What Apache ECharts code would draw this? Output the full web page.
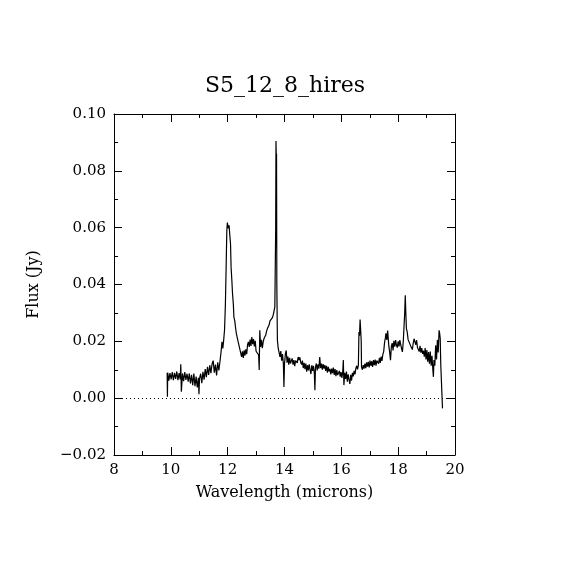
<!DOCTYPE html>
<html>
<head>
<meta charset="utf-8">
<title>S5_12_8_hires</title>
<script src="https://cdn.jsdelivr.net/npm/echarts@6/dist/echarts.min.js"></script>
<style>
  html, body { margin: 0; padding: 0; background: #fff; }
  #chart { width: 570px; height: 570px; }
</style>
</head>
<body>
<div id="chart"></div>
<script>
// 光谱数据
const wavelength = [
  9.87, 9.88, 9.89, 9.93, 9.97, 10.01, 10.05, 10.09, 10.13, 10.17,
  10.21, 10.25, 10.29, 10.33, 10.35, 10.37, 10.41, 10.45, 10.49, 10.53,
  10.57, 10.61, 10.65, 10.69, 10.73, 10.77, 10.81, 10.85, 10.89, 10.93,
  10.97, 10.99, 11.01, 11.05, 11.09, 11.13, 11.17, 11.21, 11.25, 11.29,
  11.33, 11.37, 11.41, 11.45, 11.49, 11.53, 11.57, 11.61, 11.65, 11.69,
  11.73, 11.77, 11.80, 11.83, 11.86, 11.89, 11.92, 11.95, 11.97, 11.99,
  12.02, 12.05, 12.07, 12.10, 12.12, 12.15, 12.17, 12.20, 12.22, 12.25,
  12.28, 12.31, 12.34, 12.37, 12.40, 12.43, 12.46, 12.49, 12.52, 12.55,
  12.58, 12.61, 12.64, 12.67, 12.70, 12.73, 12.76, 12.79, 12.82, 12.85,
  12.88, 12.91, 12.94, 12.97, 13.00, 13.03, 13.06, 13.09, 13.11, 13.13,
  13.16, 13.19, 13.22, 13.25, 13.28, 13.31, 13.34, 13.37, 13.40, 13.43,
  13.46, 13.49, 13.52, 13.55, 13.58, 13.61, 13.64, 13.66, 13.69, 13.70,
  13.71, 13.72, 13.73, 13.75, 13.78, 13.81, 13.84, 13.87, 13.90, 13.93,
  13.96, 13.98, 14.00, 14.03, 14.06, 14.09, 14.12, 14.15, 14.18, 14.21,
  14.24, 14.27, 14.30, 14.33, 14.36, 14.39, 14.42, 14.45, 14.48, 14.51,
  14.54, 14.57, 14.60, 14.63, 14.66, 14.69, 14.72, 14.75, 14.78, 14.81,
  14.84, 14.87, 14.90, 14.93, 14.96, 14.99, 15.02, 15.05, 15.07, 15.09,
  15.12, 15.15, 15.18, 15.21, 15.24, 15.27, 15.30, 15.33, 15.36, 15.39,
  15.42, 15.45, 15.48, 15.51, 15.54, 15.57, 15.60, 15.63, 15.66, 15.69,
  15.72, 15.75, 15.78, 15.81, 15.84, 15.87, 15.90, 15.93, 15.96, 15.99,
  16.02, 16.05, 16.07, 16.09, 16.12, 16.15, 16.18, 16.21, 16.24, 16.27,
  16.30, 16.33, 16.36, 16.39, 16.42, 16.45, 16.48, 16.51, 16.54, 16.57,
  16.60, 16.62, 16.64, 16.66, 16.68, 16.70, 16.71, 16.74, 16.77, 16.80,
  16.83, 16.86, 16.89, 16.92, 16.95, 16.98, 17.01, 17.04, 17.07, 17.10,
  17.13, 17.16, 17.19, 17.22, 17.25, 17.28, 17.31, 17.34, 17.37, 17.40,
  17.43, 17.46, 17.49, 17.52, 17.55, 17.57, 17.60, 17.63, 17.65, 17.67,
  17.70, 17.73, 17.76, 17.79, 17.82, 17.85, 17.88, 17.91, 17.94, 17.97,
  18.00, 18.03, 18.06, 18.09, 18.12, 18.15, 18.18, 18.21, 18.23, 18.25,
  18.27, 18.29, 18.32, 18.35, 18.38, 18.41, 18.44, 18.47, 18.50, 18.53,
  18.56, 18.59, 18.62, 18.65, 18.68, 18.71, 18.74, 18.77, 18.80, 18.83,
  18.86, 18.89, 18.92, 18.95, 18.98, 19.01, 19.04, 19.07, 19.10, 19.13,
  19.16, 19.19, 19.22, 19.24, 19.26, 19.29, 19.32, 19.35, 19.38, 19.41,
  19.44, 19.46, 19.48, 19.50, 19.52, 19.54, 19.55, 19.56
];
const flux = [
  0.0089, 0.0005, 0.0090, 0.0062, 0.0088, 0.0066, 0.0092, 0.0063, 0.0089, 0.0068,
  0.0094, 0.0063, 0.0088, 0.0066, 0.0119, 0.0023, 0.0087, 0.0060, 0.0092, 0.0064,
  0.0086, 0.0058, 0.0087, 0.0052, 0.0082, 0.0046, 0.0087, 0.0042, 0.0076, 0.0038,
  0.0072, 0.0014, 0.0070, 0.0086, 0.0053, 0.0093, 0.0065, 0.0102, 0.0074, 0.0110,
  0.0082, 0.0116, 0.0088, 0.0120, 0.0132, 0.0090, 0.0118, 0.0080, 0.0126, 0.0098,
  0.0130, 0.0165, 0.0198, 0.0175, 0.0205, 0.0240, 0.0330, 0.0480, 0.0590, 0.0618,
  0.0598, 0.0608, 0.0580, 0.0545, 0.0462, 0.0410, 0.0369, 0.0330, 0.0285, 0.0272,
  0.0246, 0.0225, 0.0218, 0.0198, 0.0195, 0.0172, 0.0168, 0.0145, 0.0165, 0.0142,
  0.0168, 0.0150, 0.0172, 0.0155, 0.0188, 0.0198, 0.0180, 0.0206, 0.0184, 0.0215,
  0.0190, 0.0208, 0.0182, 0.0202, 0.0165, 0.0168, 0.0172, 0.0152, 0.0099, 0.0239,
  0.0180, 0.0205, 0.0176, 0.0198, 0.0210, 0.0208, 0.0222, 0.0236, 0.0245, 0.0248,
  0.0258, 0.0272, 0.0270, 0.0266, 0.0284, 0.0296, 0.0296, 0.0321, 0.0600, 0.0905,
  0.0850, 0.0860, 0.0400, 0.0204, 0.0175, 0.0168, 0.0145, 0.0166, 0.0132, 0.0155,
  0.0122, 0.0039, 0.0120, 0.0155, 0.0168, 0.0125, 0.0146, 0.0118, 0.0142, 0.0122,
  0.0116, 0.0140, 0.0118, 0.0134, 0.0113, 0.0132, 0.0138, 0.0124, 0.0145, 0.0134,
  0.0144, 0.0126, 0.0118, 0.0132, 0.0106, 0.0124, 0.0102, 0.0122, 0.0093, 0.0116,
  0.0098, 0.0119, 0.0100, 0.0085, 0.0116, 0.0096, 0.0114, 0.0088, 0.0028, 0.0108,
  0.0122, 0.0098, 0.0119, 0.0104, 0.0145, 0.0106, 0.0122, 0.0100, 0.0120, 0.0104,
  0.0116, 0.0096, 0.0114, 0.0090, 0.0110, 0.0094, 0.0103, 0.0084, 0.0104, 0.0088,
  0.0108, 0.0082, 0.0102, 0.0077, 0.0099, 0.0081, 0.0074, 0.0096, 0.0076, 0.0092,
  0.0071, 0.0094, 0.0134, 0.0046, 0.0089, 0.0068, 0.0094, 0.0058, 0.0084, 0.0065,
  0.0050, 0.0082, 0.0062, 0.0089, 0.0077, 0.0096, 0.0084, 0.0104, 0.0114, 0.0101,
  0.0116, 0.0233, 0.0220, 0.0277, 0.0240, 0.0200, 0.0110, 0.0100, 0.0116, 0.0104,
  0.0122, 0.0106, 0.0126, 0.0111, 0.0128, 0.0108, 0.0132, 0.0114, 0.0130, 0.0110,
  0.0134, 0.0116, 0.0136, 0.0114, 0.0132, 0.0139, 0.0121, 0.0142, 0.0124, 0.0146,
  0.0131, 0.0154, 0.0163, 0.0195, 0.0212, 0.0228, 0.0205, 0.0238, 0.0245, 0.0185,
  0.0163, 0.0134, 0.0182, 0.0194, 0.0168, 0.0202, 0.0181, 0.0204, 0.0186, 0.0178,
  0.0200, 0.0182, 0.0204, 0.0188, 0.0174, 0.0163, 0.0200, 0.0205, 0.0300, 0.0362,
  0.0298, 0.0245, 0.0232, 0.0206, 0.0200, 0.0209, 0.0184, 0.0190, 0.0171, 0.0194,
  0.0209, 0.0216, 0.0188, 0.0204, 0.0178, 0.0179, 0.0164, 0.0184, 0.0160, 0.0176,
  0.0156, 0.0167, 0.0146, 0.0176, 0.0136, 0.0169, 0.0128, 0.0162, 0.0121, 0.0164,
  0.0114, 0.0149, 0.0101, 0.0075, 0.0134, 0.0114, 0.0186, 0.0136, 0.0205, 0.0161,
  0.0239, 0.0228, 0.0210, 0.0116, 0.0120, 0.0116, 0.0112, -0.0036
];
const xTicks = [8, 10, 12, 14, 16, 18, 20];
const yTicks = [-0.02, 0.00, 0.02, 0.04, 0.06, 0.08, 0.10];

(function () {
    const myChart = echarts.init(document.getElementById("chart"));
    const font = "DejaVu Serif";
    const points = wavelength.map(function (w, i) { return [w, flux[i]]; });

    // 内向刻度, 四边都画
    function tickSet(showLabel, labelFmt) {
        return {
            axisLine: { show: true, onZero: false, lineStyle: { color: "#000", width: 1 } },
            axisTick: { show: true, inside: true, length: 8, lineStyle: { color: "#000" } },
            minorTick: { show: true, splitNumber: 2, length: 4, lineStyle: { color: "#000" } },
            splitLine: { show: false },
            axisLabel: {
                show: showLabel,
                color: "#000",
                fontFamily: font,
                fontSize: 15,
                formatter: labelFmt
            }
        };
    }
    const xFmt = function (v) { return xTicks.indexOf(v) >= 0 ? String(v) : ""; };
    const yFmt = function (v) {
        const s = v.toFixed(2);
        return s.replace("-", "\u2212");
    };

    const option = {
        animation: false,
        backgroundColor: "#fff",
        title: {
            text: "S5_12_8_hires",
            left: "center",
            top: 70,
            textStyle: { fontFamily: font, fontSize: 22, fontWeight: "normal", color: "#000" }
        },
        grid: { left: 114, right: 115, top: 114, bottom: 115 },
        xAxis: [
            Object.assign({
                type: "value", min: 8, max: 20, interval: 2, position: "bottom",
                name: "Wavelength (microns)", nameLocation: "middle", nameGap: 30,
                nameTextStyle: { fontFamily: font, fontSize: 16, color: "#000" }
            }, tickSet(true, xFmt)),
            Object.assign({ type: "value", min: 8, max: 20, interval: 2, position: "top" },
                tickSet(false))
        ],
        yAxis: [
            Object.assign({
                type: "value", min: -0.02, max: 0.10, interval: 0.02, position: "left",
                name: "Flux (Jy)", nameLocation: "middle", nameGap: 72,
                nameTextStyle: { fontFamily: font, fontSize: 16, color: "#000" }
            }, tickSet(true, yFmt)),
            Object.assign({ type: "value", min: -0.02, max: 0.10, interval: 0.02, position: "right" },
                tickSet(false))
        ],
        series: [
            {
                type: "line",
                data: points,
                showSymbol: false,
                symbol: "none",
                lineStyle: { color: "#000", width: 1.2 },
                markLine: {
                    silent: true,
                    symbol: "none",
                    label: { show: false },
                    lineStyle: { color: "#000", type: [1, 3], width: 1 },
                    data: [{ yAxis: 0 }]
                }
            }
        ]
    };
    myChart.setOption(option);

    window.addEventListener("resize", function () {
        myChart.resize();
    });
})();
</script>
</body>
</html>
